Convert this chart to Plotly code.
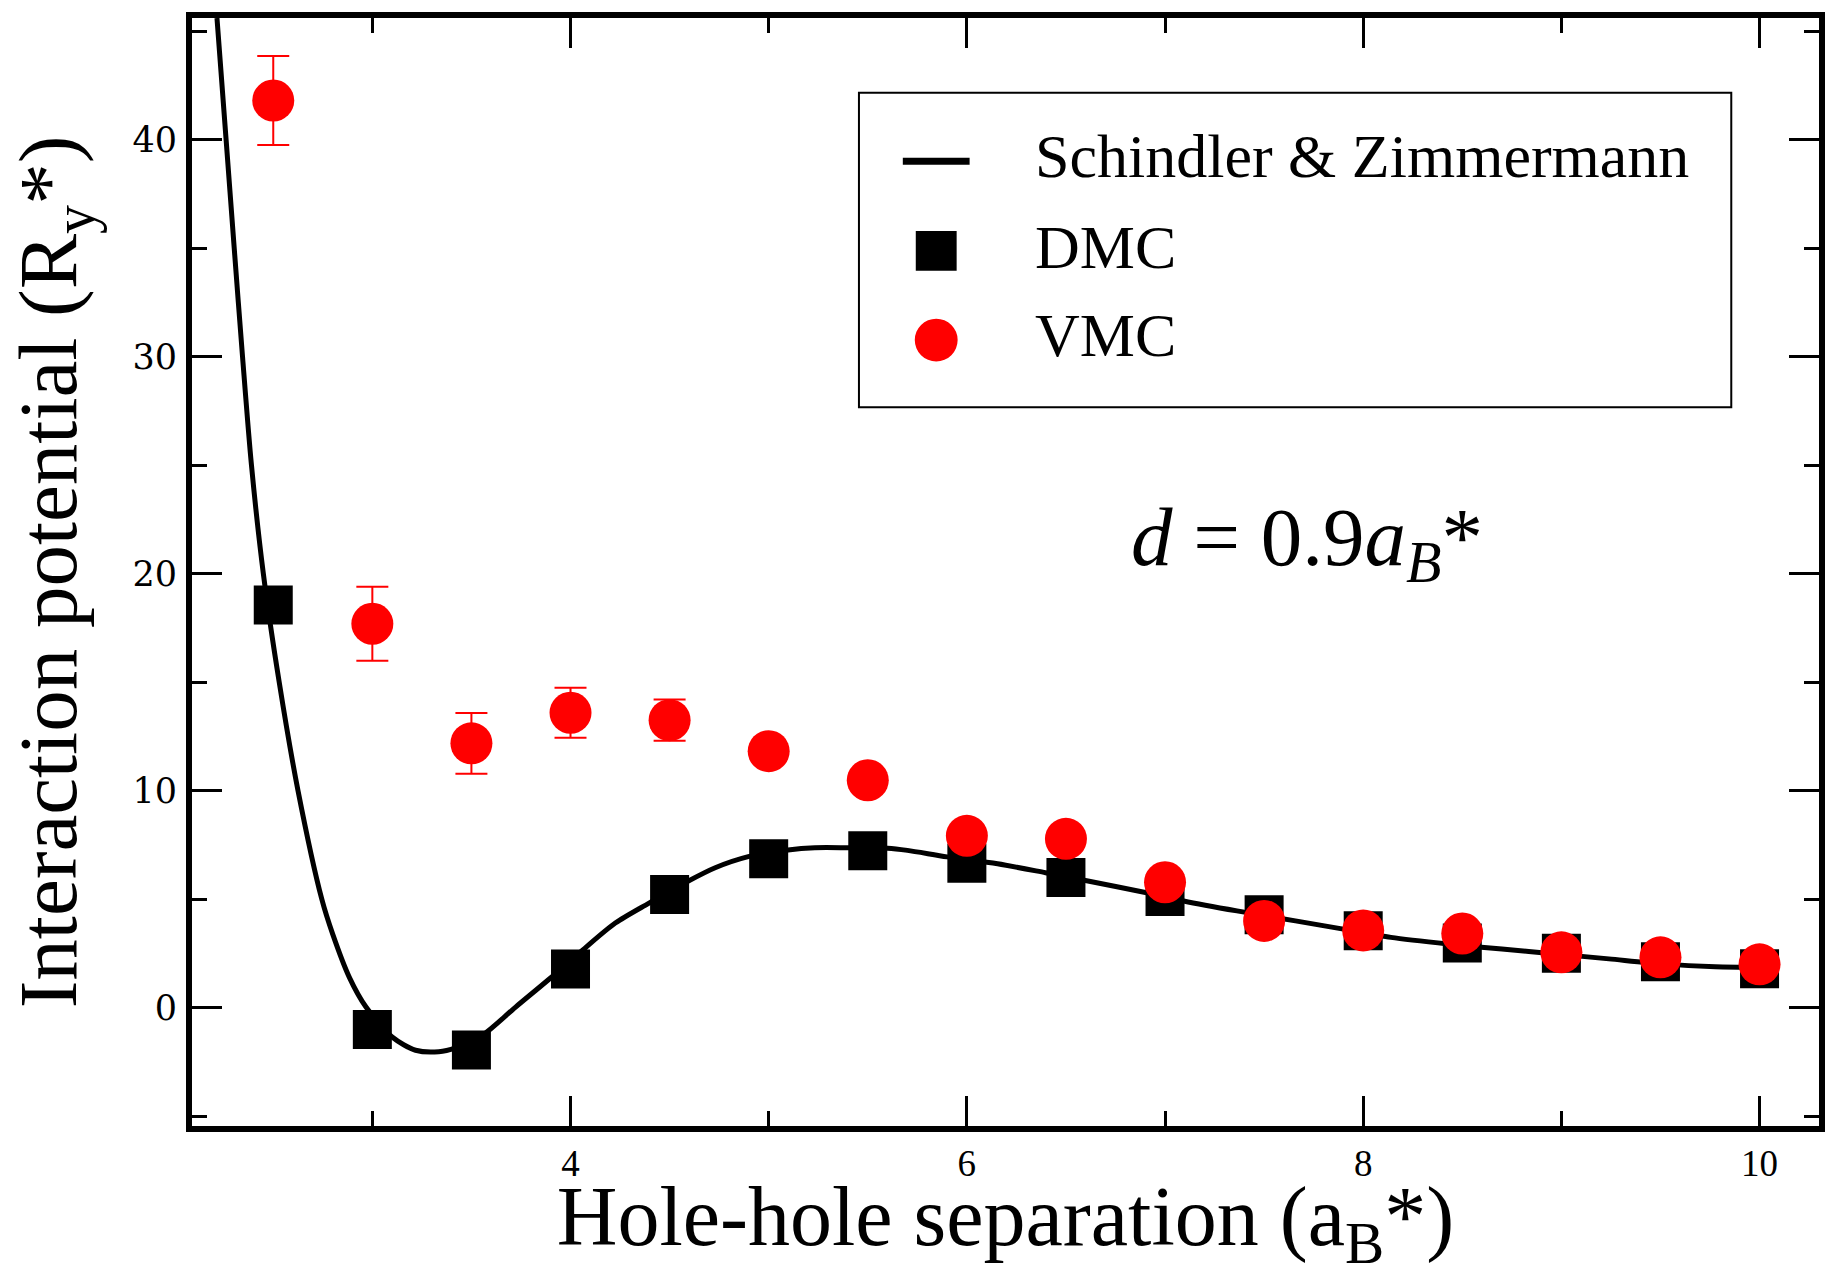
import plotly.graph_objects as go

# ---------------- data ----------------
sep = [2.5, 3.0, 3.5, 4.0, 4.5, 5.0, 5.5, 6.0, 6.5, 7.0, 7.5, 8.0, 8.5, 9.0, 9.5, 10.0]
dmc = [18.55, -1.0, -1.95, 1.78, 5.22, 6.86, 7.23, 6.66, 6.0, 5.12, 4.28, 3.55, 2.98, 2.51, 2.12, 1.79]
vmc = [41.8, 17.69, 12.18, 13.59, 13.25, 11.82, 10.48, 7.92, 7.78, 5.78, 4.0, 3.56, 3.42, 2.55, 2.32, 2.0]
vmc_err = [2.05, 1.7, 1.4, 1.15, 0.95, 0.45, 0.35, 0.3, 0.3, 0.25, 0.25, 0.2, 0.2, 0.2, 0.2, 0.2]

sz_x = [2.216, 2.262, 2.303, 2.345, 2.39, 2.45, 2.53, 2.625, 2.745, 2.80, 2.884,
        2.968, 3.10, 3.218, 3.335, 3.42, 3.555, 3.723, 3.89, 4.058, 4.226, 4.394, 4.595,
        4.73, 4.897, 5.098, 5.233, 5.40, 5.60, 5.70, 5.90, 6.155, 6.397, 6.611, 6.907,
        7.094, 7.363, 7.658, 7.90, 8.14, 8.436, 8.70, 8.97, 9.24, 9.51, 9.777, 10.0]
sz_y = [45.6, 40.0, 35.0, 30.0, 25.0, 20.0, 15.0, 10.0, 5.0, 3.39, 1.40,
        0.03, -1.35, -1.96, -2.03, -1.85, -1.27, 0.03, 1.3, 2.63, 3.9, 4.81, 5.84,
        6.45, 6.96, 7.27, 7.37, 7.37, 7.35, 7.25, 6.95, 6.63, 6.22, 5.84, 5.30,
        4.92, 4.46, 4.00, 3.62, 3.24, 2.93, 2.70, 2.48, 2.25, 2.02, 1.89, 1.86]

series_names = ["Schindler & Zimmermann", "DMC", "VMC"]
x_ticks = [4, 6, 8, 10]
y_ticks = [0, 10, 20, 30, 40]
x_title = "Hole-hole separation (a<sub>B</sub>*)"
y_title = "Interaction potential (R<sub>y</sub>*)"
label_text = "<i>d</i> = 0.9<i>a<sub>B</sub></i>*"

# ---------------- layout constants ----------------
W, H = 1837, 1276
L, R, T, B = 192, 13, 13, 150
PW, PH = W - L - R, H - T - B
SERIF = "Liberation Serif, Times New Roman, serif"


def px(xp):
    return (xp - L) / PW


def py(yp):
    return (H - B - yp) / PH


fig = go.Figure()
fig.add_trace(go.Scatter(x=sz_x, y=sz_y, mode="lines", name=series_names[0],
                         line=dict(color="black", width=5, shape="spline", smoothing=0.8),
                         showlegend=False))
fig.add_trace(go.Scatter(x=sep, y=dmc, mode="markers", name=series_names[1],
                         marker=dict(symbol="square", size=39, color="black"),
                         showlegend=False))
fig.add_trace(go.Scatter(x=sep, y=vmc, mode="markers", name=series_names[2],
                         marker=dict(symbol="circle", size=42, color="#ff0000"),
                         error_y=dict(type="data", array=vmc_err, color="#ff0000",
                                      thickness=2, width=16),
                         showlegend=False))

axis_common = dict(showline=True, linecolor="black", linewidth=6, mirror="ticks",
                   ticks="inside", ticklen=30, tickwidth=3, tickcolor="black",
                   showgrid=False, zeroline=False)

fig.update_xaxes(**axis_common, range=[2.09, 10.30], tickvals=x_ticks,
                 ticktext=[str(v) for v in x_ticks],
                 tickfont=dict(family=SERIF, size=37, color="black"),
                 ticklabelstandoff=0,
                 minor=dict(ticks="inside", ticklen=15, tickwidth=3, tickcolor="black", dtick=1, tick0=0),
                 title=dict(text=x_title, font=dict(family=SERIF, size=84, color="black"), standoff=1))
fig.update_yaxes(**axis_common, range=[-5.45, 45.6], tickvals=y_ticks,
                 ticktext=[str(v) for v in y_ticks],
                 tickfont=dict(family="DejaVu Serif, serif", size=35, color="black"),
                 ticklabelstandoff=2,
                 minor=dict(ticks="inside", ticklen=15, tickwidth=3, tickcolor="black", dtick=5, tick0=0),
                 title=dict(text=y_title, font=dict(family=SERIF, size=83, color="black"), standoff=30))

# ---------------- hand-built legend (box, swatches, labels) ----------------
shapes = [
    dict(type="rect", xref="paper", yref="paper", x0=px(861), x1=px(1736), y0=py(404), y1=py(88),
         line=dict(color="black", width=2), fillcolor="white", layer="above"),
    dict(type="line", xref="paper", yref="paper", x0=px(905), x1=px(972), y0=py(157), y1=py(157),
         line=dict(color="black", width=7), layer="above"),
    dict(type="rect", xref="paper", yref="paper", x0=px(918), x1=px(959), y0=py(267), y1=py(227),
         line=dict(width=0), fillcolor="black", layer="above"),
    dict(type="circle", xref="paper", yref="paper", x0=px(917), x1=px(960), y0=py(358), y1=py(315),
         line=dict(width=0), fillcolor="#ff0000", layer="above"),
]
legend_rows = [152, 243, 331]
annotations = []
for name, yrow in zip(series_names, legend_rows):
    annotations.append(dict(text=name, xref="paper", yref="paper", x=px(1036), y=py(yrow),
                            xanchor="left", yanchor="middle", showarrow=False,
                            font=dict(family=SERIF, size=62, color="black")))
annotations.append(dict(text=label_text, xref="paper", yref="paper", x=px(1132), y=py(540),
                        xanchor="left", yanchor="middle", showarrow=False,
                        font=dict(family=SERIF, size=83, color="black")))

fig.update_layout(width=W, height=H, autosize=False,
                  margin=dict(l=L, r=R, t=T, b=B, pad=0),
                  paper_bgcolor="white", plot_bgcolor="white",
                  showlegend=False, shapes=shapes, annotations=annotations)

fig.write_html("out.html")
